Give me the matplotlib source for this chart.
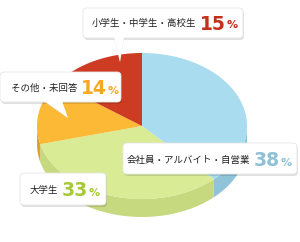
import numpy as np
import matplotlib.pyplot as plt
from matplotlib.patches import FancyBboxPatch, Polygon

labels = ['会社員・アルバイト・自営業', '大学生', 'その他・未回答', '小学生・中学生・高校生']
values = [38, 33, 14, 15]
top_colors = ['#a8dcee', '#d9eb95', '#fbb936', '#cd3b22']
side_colors = ['#8ec3d8', '#c6d97f', '#e0a030', '#a83018']
pct_colors = ['#8fc0d6', '#a6c93a', '#f6a821', '#c0321c']

# callout boxes: x0, y0, x1, y1 (pixels), tail (base-left, base-right, tip) or None
boxes = [
    (123, 143, 297, 174, None),
    (20, 173, 106, 205, None),
    (0, 72, 121, 102, [(44, 102), (62, 102), (68, 118)]),
    (83, 8, 243, 38, [(114, 38), (124, 38), (120, 62)]),
]
label_pos = [(250, 160), (58, 190), (77, 88), (196, 23)]

cx, cy, rx, ry, depth = 142, 126, 105, 73, 18
JP = ['Noto Sans CJK JP', 'DejaVu Sans']

fig = plt.figure(figsize=(3.0, 2.42), dpi=100)
ax = fig.add_axes([0, 0, 1, 1])
ax.set_xlim(0, 300)
ax.set_ylim(242, 0)
ax.axis('off')

def pt(a, dy=0):
    return cx + rx * np.cos(a), cy - ry * np.sin(a) + dy

# angles: start at top, clockwise
fr = np.array(values) / sum(values)
ends = np.pi / 2 - 2 * np.pi * np.cumsum(fr)
starts = np.concatenate([[np.pi / 2], ends[:-1]])

# sides (front half only: angles between -pi and 0)
for s, e, c in zip(starts, ends, side_colors):
    lo, hi = e, s
    # map into visible window [-pi, 0]
    for k in (0, -2 * np.pi, 2 * np.pi):
        a0, a1 = max(lo + k, -np.pi), min(hi + k, 0)
        if a1 > a0:
            a = np.linspace(a0, a1, 60)
            x, y = pt(a)
            xb, yb = pt(a[::-1], depth)
            ax.fill(np.r_[x, xb], np.r_[y, yb], color=c, lw=0)

# top faces
for s, e, c in zip(starts, ends, top_colors):
    a = np.linspace(s, e, 100)
    x, y = pt(a)
    ax.fill(np.r_[cx, x], np.r_[cy, y], color=c, lw=0)

fig.canvas.draw()
r = fig.canvas.get_renderer()

for (x0, y0, x1, y1, tail), lab, (lx, ly), pc, v in zip(boxes, labels, label_pos, pct_colors, values):
    sh = FancyBboxPatch((x0 + 1, y0 + 2), x1 - x0, y1 - y0, boxstyle='round,pad=0,rounding_size=4',
                        fc='#000000', alpha=0.12, ec='none')
    ax.add_patch(sh)
    if tail:
        ax.add_patch(Polygon(tail, closed=True, fc='#cccccc', ec='none', alpha=0.5))
    ax.add_patch(FancyBboxPatch((x0, y0), x1 - x0, y1 - y0, boxstyle='round,pad=0,rounding_size=4',
                                fc='white', ec='#e6e6e6', lw=0.6))
    if tail:
        t = [(tail[0][0], tail[0][1] - 1), (tail[1][0], tail[1][1] - 1), tail[2]]
        ax.add_patch(Polygon(t, closed=True, fc='white', ec='none'))
    ax.text(lx, ly, lab, ha='right', va='center', fontsize=6.8, family=JP, color='#222222')
    tn = ax.text(lx + 4, ly + 1, str(v), ha='left', va='center', fontsize=13.5, family='DejaVu Sans',
                 color=pc, fontweight='bold')
    bb = tn.get_window_extent(r)
    ax.text(lx + 4 + bb.width + 0.5, ly + 2.5, '%', ha='left', va='center', fontsize=8,
            family='DejaVu Sans', color=pc, fontweight='bold')

fig.savefig('out.png', dpi=100)
